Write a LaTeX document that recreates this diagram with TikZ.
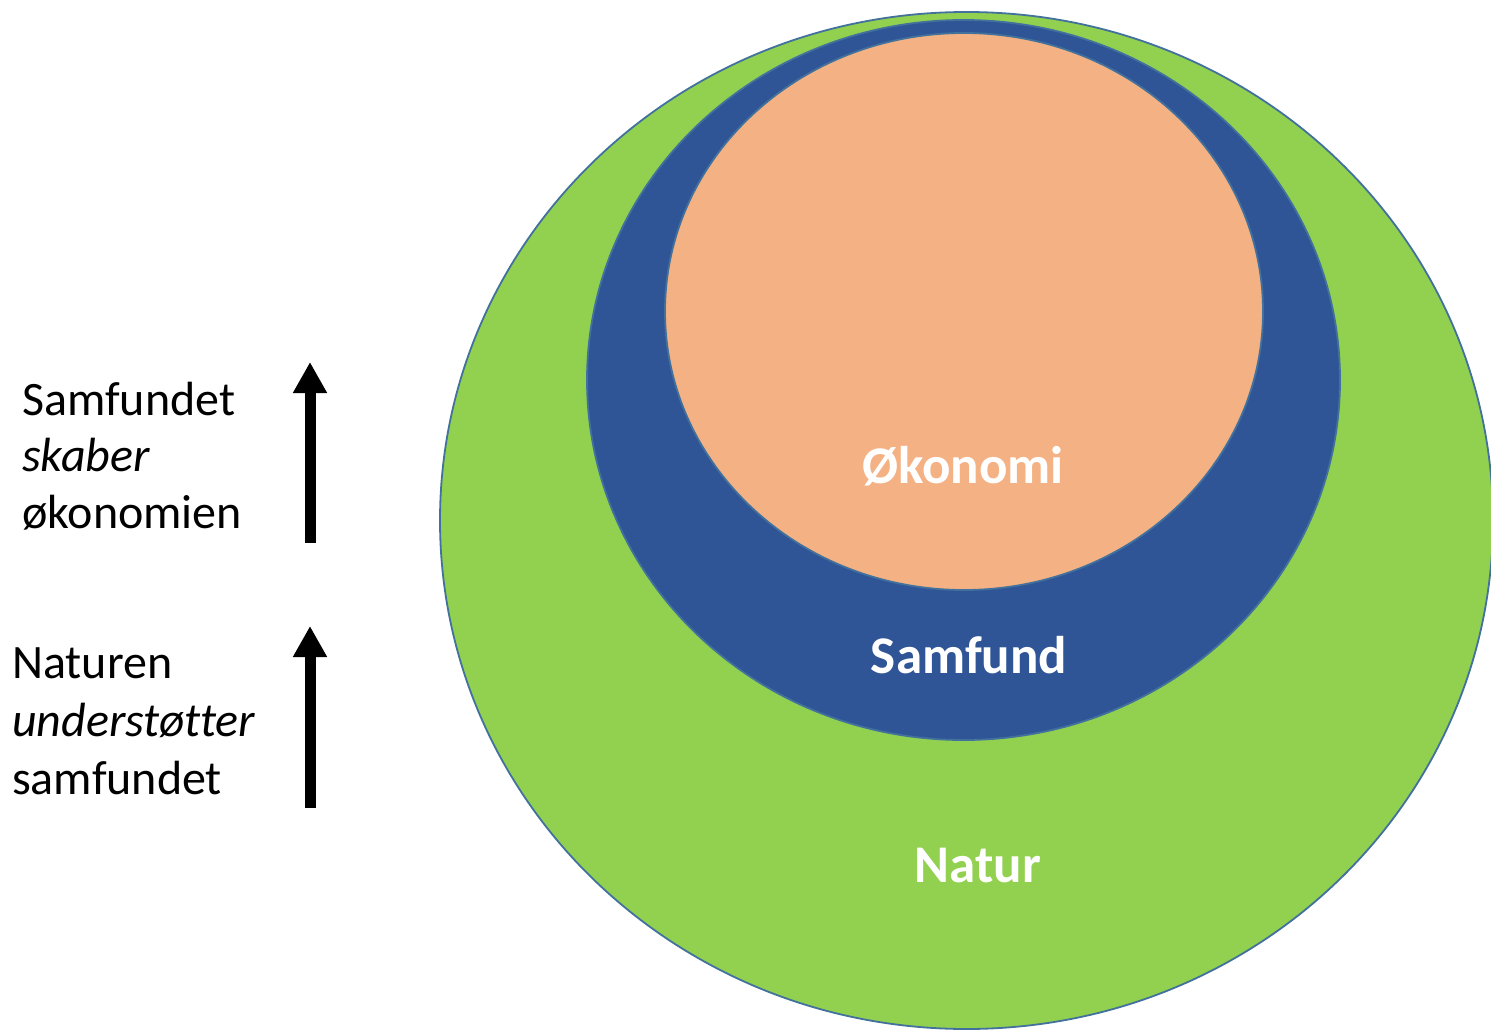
\documentclass[tikz,border=0pt]{standalone}
\usepackage{fontspec}
\setmainfont{Carlito}[Ligatures=CommonOff]
\usetikzlibrary{arrows.meta}
\definecolor{natgreen}{HTML}{92D050}
\definecolor{samblue}{HTML}{2F5597}
\definecolor{okoorange}{HTML}{F4B183}
\definecolor{edgeblue}{HTML}{41719C}
\tikzset{
  ring/.style={draw=edgeblue, line width=1.8pt},
  sidetext/.style={anchor=base west, inner sep=0pt, font=\fontsize{48}{58}\selectfont},
  bigtext/.style={anchor=base, inner sep=0pt, text=white, font=\fontsize{53}{62}\selectfont\bfseries},
  uparrow/.style={line width=11pt, -{Triangle[width=32pt,length=31pt]}}
}
\begin{document}
\begin{tikzpicture}[x=1pt,y=-1pt]
\useasboundingbox (0,0) rectangle (1491,1030);
\begin{scope}
\clip (0,0) rectangle (1491,1030);
\draw[ring, fill=natgreen] (966.5,520.5) ellipse [x radius=526.5, y radius=508.5];
\draw[ring, fill=samblue] (963.5,380) ellipse [x radius=376.5, y radius=360];
\draw[ring, fill=okoorange] (964,311.5) ellipse [x radius=299, y radius=278.5];
\end{scope}
\node[bigtext] (okonomi) at (963,483) {Økonomi};
\node[bigtext] (samfund) at (969,673) {Samfund};
\node[bigtext] (natur) at (978,882) {Natur};
\node[sidetext] (l1) at (22,415) {Samfundet};
\node[sidetext] (l2) at (22,471) {\itshape skaber};
\node[sidetext] (l3) at (22,528) {økonomien};
\node[sidetext] (m1) at (12,678) {Naturen};
\node[sidetext] (m2) at (12,736) {\itshape understøtter};
\node[sidetext] (m3) at (12,794) {samfundet};
\coordinate (a1s) at (310,543);
\coordinate (a1e) at (310,362);
\coordinate (a2s) at (310,808);
\coordinate (a2e) at (310,626);
\draw[uparrow] (a1s) -- (a1e);
\draw[uparrow] (a2s) -- (a2e);
\end{tikzpicture}
\end{document}
